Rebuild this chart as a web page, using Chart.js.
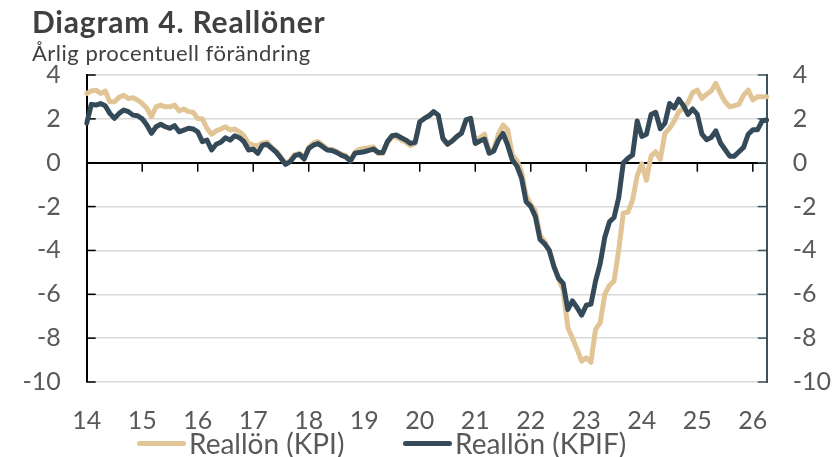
<!DOCTYPE html>
<html lang="sv">
<head>
<meta charset="utf-8">
<title>Diagram 4. Reallöner</title>
<script src="https://cdn.jsdelivr.net/npm/chart.js@4.4.1/dist/chart.umd.min.js"></script>
<style>
    body { margin: 0; background: #fff; font-family: Lato, sans-serif; }
    .wrap { position: relative; width: 838px; height: 457px; }
    .title { position: absolute; left: 32px; top: 6px; font-size: 30px; line-height: 30px; letter-spacing: 0.8px; font-weight: 700; color: #404040; }
    .subtitle { position: absolute; left: 32px; top: 42px; font-size: 22px; line-height: 22px; letter-spacing: 0.5px; color: #404040; }
    .legend-item { position: absolute; top: 429px; display: flex; align-items: center; font-size: 28px; line-height: 28px; color: #595959; }
    .swatch { display: inline-block; width: 49px; height: 5px; border-radius: 3px; margin-right: 3px; }
</style>
</head>
<body>
<div class="wrap">
    <canvas id="chart" width="838" height="457"></canvas>
    <div class="title">Diagram 4. Reallöner</div>
    <div class="subtitle">Årlig procentuell förändring</div>
    <div class="legend-item" style="left:137px"><span class="swatch" style="background:#e2c596"></span>Reallön (KPI)</div>
    <div class="legend-item" style="left:403px"><span class="swatch" style="background:#344a59"></span>Reallön (KPIF)</div>
</div>
<script>
// Year tick labels (one per January)
const yearLabels = ['14', '15', '16', '17', '18', '19', '20', '21', '22', '23', '24', '25', '26'];

// Monthly categories, Jan 2014 - Apr 2026
const months = [];
for (let y = 2014; y <= 2026; y++) {
    for (let m = 1; m <= 12; m++) {
        if (y === 2026 && m > 4) break;
        months.push(`${y}-${String(m).padStart(2, '0')}`);
    }
}

// Reallön deflated with KPI
const realKPI = [
    3.16, 3.27, 3.31, 3.16, 3.27, 2.78, 2.78, 2.98, 3.08, 2.93, 2.96, 2.86,
    2.7, 2.48, 2.1, 2.55, 2.63, 2.55, 2.55, 2.63, 2.36, 2.45, 2.33, 2.3,
    2.02, 2.0, 1.57, 1.3, 1.45, 1.54, 1.64, 1.49, 1.54, 1.41, 1.23, 0.88,
    0.8, 0.78, 0.9, 0.94, 0.7, 0.52, 0.25, -0.03, 0.1, 0.37, 0.43, 0.22,
    0.7, 0.9, 0.97, 0.81, 0.63, 0.61, 0.52, 0.4, 0.32, 0.08, 0.48, 0.62,
    0.65, 0.68, 0.72, 0.42, 0.42, 0.91, 1.18, 1.16, 1.04, 0.93, 0.78, 0.88,
    1.87, 2.02, 2.14, 2.33, 2.17, 1.11, 0.84, 0.99, 1.19, 1.34, 1.95, 2.02,
    0.9, 1.15, 1.3, 0.5, 0.65, 1.3, 1.72, 1.5, 0.35, 0.1, -0.4, -1.5,
    -1.9, -2.2, -3.3, -3.6, -4.0, -4.7, -5.3, -5.8, -7.5, -8.0, -8.5, -9.05,
    -8.9, -9.1, -7.6, -7.3, -6.0, -5.6, -5.4, -4.0, -2.3, -2.25, -1.7, -0.6,
    -0.05, -0.8, 0.3, 0.5, 0.15, 1.34, 1.57, 1.9, 2.33, 2.48, 2.75, 3.2,
    3.31, 2.93, 3.12, 3.27, 3.62, 3.16, 2.78, 2.55, 2.6, 2.66, 3.08, 3.31,
    2.86, 3.01, 3.01, 3.01
];

// Reallön deflated with KPIF
const realKPIF = [
    1.8, 2.66, 2.63, 2.7, 2.6, 2.25, 2.02, 2.25, 2.4, 2.33, 2.17, 2.14,
    2.0, 1.72, 1.34, 1.64, 1.75, 1.64, 1.57, 1.69, 1.41, 1.49, 1.57, 1.54,
    1.41, 0.96, 1.03, 0.58, 0.84, 0.93, 1.14, 1.03, 1.23, 1.14, 0.96, 0.58,
    0.62, 0.43, 0.8, 0.84, 0.65, 0.47, 0.2, -0.08, 0.05, 0.32, 0.38, 0.17,
    0.65, 0.8, 0.87, 0.73, 0.58, 0.56, 0.47, 0.35, 0.27, 0.08, 0.43, 0.47,
    0.5, 0.56, 0.62, 0.47, 0.47, 0.96, 1.23, 1.26, 1.14, 1.03, 0.88, 0.93,
    1.87, 2.02, 2.14, 2.33, 2.17, 1.11, 0.84, 0.99, 1.19, 1.34, 1.95, 2.02,
    0.88, 0.99, 1.08, 0.43, 0.53, 1.03, 1.34, 0.8, 0.12, -0.15, -0.7, -1.78,
    -2.0, -2.46, -3.5, -3.7, -4.0, -4.74, -5.27, -5.5, -6.7, -6.3, -6.6, -6.95,
    -6.5, -6.45, -5.4, -4.6, -3.4, -2.7, -2.5, -1.6, 0.0, 0.2, 0.35, 1.9,
    1.2, 1.3, 2.2, 2.3, 1.55, 1.8, 2.7, 2.5, 2.9, 2.6, 2.2, 2.45,
    2.2, 1.3, 1.05, 1.15, 1.45, 0.9, 0.6, 0.3, 0.3, 0.5, 0.7, 1.3,
    1.5, 1.5, 1.9, 1.95
];

const tickColor = '#595959';
const rightAxisColor = '#3d5261';

// Excel-style tick marks: year ticks on the zero line, inward ticks on both value axes
const axisTicks = {
    id: 'axisTicks',
    beforeDatasetsDraw(chart) {
        const { ctx, chartArea, scales: { x, y } } = chart;
        const zero = y.getPixelForValue(0);
        ctx.save();
        ctx.lineWidth = 1.5;
        ctx.strokeStyle = '#000';
        months.forEach((m, i) => {
            if (!m.endsWith('-01')) return;
            const px = x.getPixelForValue(i);
            ctx.beginPath();
            ctx.moveTo(px, zero);
            ctx.lineTo(px, zero + 9);
            ctx.stroke();
        });
        y.ticks.forEach(t => {
            const py = y.getPixelForValue(t.value);
            ctx.strokeStyle = '#000';
            ctx.beginPath();
            ctx.moveTo(chartArea.left, py);
            ctx.lineTo(chartArea.left + 9, py);
            ctx.stroke();
            ctx.strokeStyle = rightAxisColor;
            ctx.beginPath();
            ctx.moveTo(chartArea.right, py);
            ctx.lineTo(chartArea.right - 9, py);
            ctx.stroke();
        });
        ctx.restore();
    }
};

Chart.defaults.font.family = 'Lato, sans-serif';

const ctx = document.getElementById('chart').getContext('2d');
new Chart(ctx, {
    type: 'line',
    data: {
        labels: months,
        datasets: [
            {
                label: 'Reallön (KPIF)',
                data: realKPIF,
                borderColor: '#344a59',
                backgroundColor: '#344a59',
                borderWidth: 5,
                pointRadius: 0,
                tension: 0,
                borderJoinStyle: 'round',
                borderCapStyle: 'round',
                yAxisID: 'y'
            },
            {
                label: 'Reallön (KPI)',
                data: realKPI,
                borderColor: '#e2c596',
                backgroundColor: '#e2c596',
                borderWidth: 5,
                pointRadius: 0,
                tension: 0,
                borderJoinStyle: 'round',
                borderCapStyle: 'round',
                yAxisID: 'y'
            }
        ]
    },
    options: {
        responsive: false,
        animation: false,
        layout: { padding: { top: 75, left: 0, right: 0, bottom: 0 } },
        plugins: {
            legend: { display: false },
            tooltip: { enabled: false }
        },
        scales: {
            x: {
                grid: { display: false },
                border: { display: false },
                ticks: {
                    autoSkip: false,
                    maxRotation: 0,
                    padding: 16,
                    color: tickColor,
                    font: { size: 25 },
                    callback: (val, i) => months[i].endsWith('-01') ? yearLabels[i / 12] : ''
                },
                afterFit: (scale) => { scale.height = 75; }
            },
            y: {
                position: 'left',
                min: -10,
                max: 4,
                ticks: { stepSize: 2, padding: 26, color: tickColor, font: { size: 25 } },
                grid: {
                    drawTicks: false,
                    color: (c) => c.tick.value === 0 ? '#000' : '#d9d9d9',
                    lineWidth: (c) => c.tick.value === 0 ? 2 : 1.5
                },
                border: { display: true, color: '#000', width: 2 },
                afterFit: (scale) => { scale.width = 86.7; }
            },
            y2: {
                position: 'right',
                min: -10,
                max: 4,
                ticks: { stepSize: 2, padding: 26, color: tickColor, font: { size: 25 } },
                grid: { drawOnChartArea: false, drawTicks: false },
                border: { display: true, color: rightAxisColor, width: 2 },
                afterFit: (scale) => { scale.width = 71.3; }
            }
        }
    },
    plugins: [axisTicks]
});
</script>
</body>
</html>
